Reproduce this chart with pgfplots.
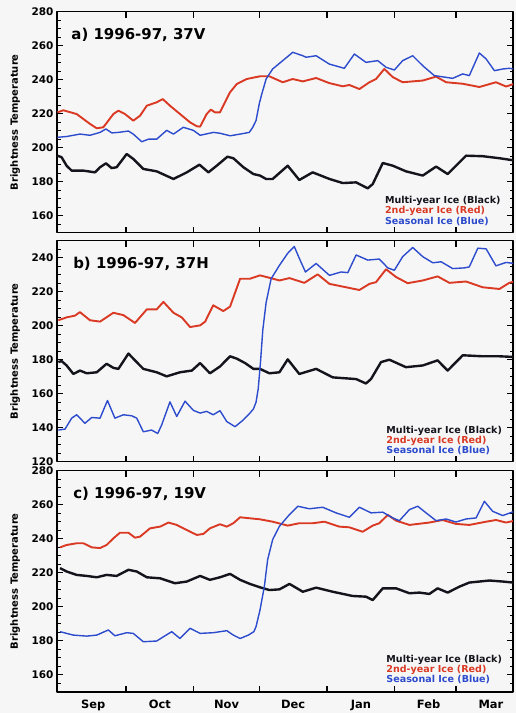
\documentclass[border=0pt]{standalone}
\usepackage{pgfplots}
\pgfplotsset{compat=1.18}
\usepackage{fontspec}
\setmainfont{DejaVu Sans}
\definecolor{myred}{RGB}{218,58,36}
\definecolor{myblue}{RGB}{45,75,205}
\definecolor{myblack}{RGB}{20,20,28}
\definecolor{bg}{RGB}{246,246,246}
\pgfplotsset{
 panel/.style={
  width=456bp, height=221bp, scale only axis,
  xmin=-1.6, xmax=207.1,
  xtick={30,61,91,122,153,181}, xticklabels={},
  axis line style={line width=1.6bp},
  major tick length=6bp, minor tick length=3.5bp,
  every tick/.style={line width=1.2bp, black},
  ytick distance=20,
  /pgf/number format/assume math mode=true,
  yticklabel style={font=\bfseries\fontsize{10.5}{12}\selectfont},
  ylabel={Brightness Temperature},
  ylabel style={font=\bfseries\fontsize{10}{12}\selectfont, at={(axis description cs:-0.092,0.5)}, anchor=center},
  line join=round,
 },
}
\tikzset{
 blk/.style={myblack, line width=2.4bp},
 rd/.style={myred, line width=1.9bp},
 bl/.style={myblue, line width=1.4bp},
 ttl/.style={anchor=west, font=\bfseries\fontsize{15}{18}\selectfont},
 lg/.style={anchor=west, font=\bfseries\fontsize{9.6}{11}\selectfont, inner sep=0pt},
}
\begin{document}
\begin{tikzpicture}
\path[use as bounding box, fill=bg] (0,0) rectangle (516bp,713bp);
% ---------------- panel a
\begin{axis}[panel, at={(57bp,480.3bp)}, anchor=south west, ymin=150, ymax=280, minor ytick={150,155,...,280}]
\addplot[blk] coordinates {(-1.4,195.3) (0.5,194.4) (2.8,189.4) (5.1,186.5) (10.5,186.5) (15.8,185.5) (18.1,188.5) (20.8,190.8) (23.4,188) (25.7,188.5) (30.3,196.3) (33.3,193.4) (37.9,187.5) (44,186.1) (51.7,181.6) (57.8,185.5) (63.6,190) (67.7,185.5) (71.5,189.4) (76.4,194.7) (79.1,193.8) (83.7,188.5) (88.3,184.5) (91.3,183.6) (94.1,181.6) (97.1,181.6) (104,189.4) (109.3,181) (115.4,185.5) (123.1,181.6) (129.2,179.2) (135.3,179.6) (140.6,176.1) (142.9,178.6) (147.5,191) (152.1,189.4) (158.1,186.1) (165.8,183.6) (171.9,188.9) (177.2,184.5) (185.6,195.3) (193.2,195) (200.9,193.8) (207.7,192.5)};
\addplot[rd] coordinates {(-1.4,220.8) (1.3,222) (7.4,219.8) (13.5,214) (16.6,211.4) (19.6,212) (24.2,219.8) (26.5,221.8) (29.5,219.8) (33.3,215.9) (36.4,218.8) (39.5,224.7) (44,226.7) (46.8,228.6) (50.1,224.7) (54.7,219.8) (59.3,214.9) (62.4,212.6) (63.9,212.4) (66.9,219.8) (68.8,222.4) (70.7,220.8) (73,220.8) (77.6,232.6) (80.7,237.5) (85.2,240.4) (91.3,242) (95.6,242) (101.7,238.5) (106.3,240.4) (110.9,239) (117,241) (123,238) (129.2,236.1) (132.2,236.9) (136.8,234.5) (141.4,238.5) (144.4,240.4) (148.2,246.3) (152.1,241.5) (156.6,238.5) (165.8,239.5) (171.9,241.8) (176.5,238.5) (184.1,237.6) (191.7,235.7) (199.3,238.5) (203.9,236) (207.7,237.6)};
\addplot[bl] coordinates {(-1.4,206.1) (2.9,206.6) (8.9,208) (13.5,207.3) (18.1,209) (20.8,211) (23.5,208.7) (26.5,209) (31.1,209.8) (33.3,208) (37.2,203.5) (40.2,205) (44,205) (48.6,210.2) (51.7,208) (56.2,212) (60.8,210.2) (63.9,207.3) (70,209) (73,208.5) (77.6,207) (82.2,208) (86.4,209) (88,212) (89.5,216) (91,226) (92,231) (94.1,240.4) (97.1,246.3) (101.7,251.2) (106.3,256.1) (110.9,254.1) (112.4,253.2) (117,254.1) (123,249.2) (129.9,246.7) (134.5,255.1) (139.8,250.2) (145.2,251.2) (149,247.3) (152.8,245.7) (156.6,251.2) (161.2,254.1) (165.8,248.2) (171.1,242.4) (179.5,240.8) (184.1,243.4) (187.1,242.4) (191.7,255.7) (194.8,252.2) (198.6,245.3) (202.4,246.3) (205.4,246.7) (207.7,246.3)};
\node[ttl] at (axis description cs:0.024,0.895) {a) 1996-97, 37V};
\node[lg, text=myblack] at (axis description cs:0.719,0.145) {Multi-year Ice (Black)};
\node[lg, text=myred] at (axis description cs:0.719,0.098) {2nd-year Ice (Red)};
\node[lg, text=myblue] at (axis description cs:0.719,0.051) {Seasonal Ice (Blue)};
\end{axis}
% ---------------- panel b
\begin{axis}[panel, at={(57bp,251.3bp)}, anchor=south west, ymin=120, ymax=250, minor ytick={120,125,...,250}]
\addplot[blk] coordinates {(-1.0,178.6) (0.5,179.2) (2.8,176.6) (5.9,171.6) (8.9,173.6) (12.0,172) (16.6,172.6) (21.1,177.6) (24.2,175.2) (26.5,174.6) (31.1,183.6) (34.1,179.6) (37.9,174.6) (44.0,172.6) (48.6,170.2) (54.7,172.6) (60.1,173.6) (63.9,178) (68.4,172) (73.0,176) (77.6,182) (80.7,180.6) (84.5,178) (88.3,174.6) (91.3,174.6) (95.6,172) (100.2,172.6) (104.0,180.2) (109.3,171.6) (117.0,174.6) (124.6,169.6) (135.3,168.6) (139.8,166) (142.1,168.6) (146.7,178.6) (150.5,180) (158.1,175.6) (165.8,176.6) (172.6,179.6) (177.2,173.6) (184.1,182.6) (193.2,182) (200.9,182) (207.7,181.6)};
\addplot[rd] coordinates {(-1.0,203.2) (2.8,204.9) (6.6,205.9) (8.9,208) (13.5,203.2) (18.1,202.4) (24.2,207.6) (28.8,206.2) (34.1,201.6) (39.5,209.6) (44.0,209.6) (47.1,214) (51.7,207.6) (55.5,204.9) (59.3,199.2) (63.9,200.2) (66.2,202.4) (69.9,212) (74.5,208.6) (77.6,211.2) (82.2,227.6) (86.7,227.6) (91.3,229.6) (95.6,228.2) (100.2,226.6) (104.8,228) (111.6,225.2) (117.7,230.2) (123.1,224.6) (130.7,222.6) (136.8,221) (141.4,224.6) (144.4,225.6) (149.0,233.2) (153.6,228.6) (158.9,225) (165.8,226.6) (172.6,229) (178.0,225.2) (185.6,226) (193.2,222.6) (200.9,221.6) (205.4,225.2) (207.7,226)};
\addplot[bl] coordinates {(-1.0,138.6) (2.1,139.2) (5.1,145.6) (7.4,147.6) (11.2,142.6) (14.3,146) (18.1,145.6) (21.5,156) (24.9,145.6) (28.8,147.6) (32.6,147) (34.9,145.6) (37.9,137.6) (41.7,138.6) (44.5,136.6) (46.3,141.6) (50.1,155.2) (53.2,146.6) (57.0,155.6) (60.8,150.2) (63.9,148.6) (66.9,149.6) (69.9,147.6) (73.0,150) (76.1,143.6) (79.9,140.6) (83.7,144.6) (86.7,148.6) (88.3,151) (89.5,155) (90.5,163) (91.5,178) (92.6,197.6) (94.1,213.6) (96.4,227.6) (100.2,235.5) (104.0,242.6) (107.0,246.6) (109.3,239.6) (112.1,231.6) (117.0,236.6) (123.1,229.6) (128.4,231.6) (131.5,231.2) (135.3,241.6) (140.6,238.6) (145.9,239.2) (149.8,234) (152.8,232.6) (156.6,240.6) (161.2,246) (165.8,240.6) (170.4,237) (174.2,237.6) (179.5,233.6) (184.8,234) (187.1,234.6) (191.0,245.6) (194.8,245.2) (199.3,235.2) (203.9,237.2) (207.7,236.6)};
\node[ttl] at (axis description cs:0.028,0.895) {b) 1996-97, 37H};
\node[lg, text=myblack] at (axis description cs:0.722,0.140) {Multi-year Ice (Black)};
\node[lg, text=myred] at (axis description cs:0.722,0.095) {2nd-year Ice (Red)};
\node[lg, text=myblue] at (axis description cs:0.722,0.050) {Seasonal Ice (Blue)};
\end{axis}
% ---------------- panel c
\begin{axis}[panel, at={(57bp,21.3bp)}, anchor=south west, ymin=150, ymax=280, minor ytick={150,155,...,280},
  extra x ticks={15,45.5,76,106.5,137.5,168.5,197},
  extra x tick labels={Sep,Oct,Nov,Dec,Jan,Feb,Mar},
  extra x tick style={major tick length=0pt, tick label style={font=\bfseries\fontsize{11.5}{13}\selectfont, yshift=-4.5bp}}]
\addplot[blk] coordinates {(-0.2,222.7) (2.8,220.7) (7.4,218.7) (12.0,218.1) (16.6,217.3) (21.1,218.7) (25.7,218.1) (31.1,221.7) (34.9,220.7) (39.5,217.3) (45.6,216.7) (52.4,213.8) (57.8,214.8) (63.9,218.1) (68.4,215.8) (73.0,217.3) (77.6,219.3) (82.2,215.8) (86.7,213.4) (91.3,211.4) (95.6,209.8) (100.2,210.2) (104.8,213.4) (110.9,208.8) (117.0,211.2) (124.6,208.8) (133.7,206.3) (139.8,205.9) (142.9,203.9) (147.5,210.8) (153.6,210.8) (159.7,207.9) (164.3,208.3) (168.8,207.5) (172.6,210.8) (177.2,208.3) (182.6,211.8) (187.1,214.2) (196.3,215.4) (202.4,214.8) (207.1,214.2)};
\addplot[rd] coordinates {(-0.2,234.9) (2.8,236.3) (7.4,237.3) (10.5,237.3) (14.3,234.9) (18.1,234.5) (21.1,236.3) (24.2,240.2) (27.2,243.5) (31.1,243.5) (34.1,240.6) (36.4,241.2) (41.0,246.1) (45.6,247.1) (49.4,249.5) (53.2,248.1) (57.8,245.1) (62.4,242.2) (65.4,242.8) (68.4,246.1) (73.0,248.5) (76.1,247.1) (79.1,249.1) (82.2,252.6) (86.7,252) (91.3,251.4) (97.1,250) (104.0,247.7) (109.3,249.1) (115.4,249.1) (120.8,250) (127.6,247.1) (132.2,246.7) (138.3,244.1) (142.9,247.7) (145.9,249.1) (149.8,254) (153.6,250.6) (159.7,248.1) (168.8,249.5) (174.9,251) (181.0,248.7) (187.1,248.1) (194.8,250) (199.3,251) (203.9,249.5) (207.1,250.4)};
\addplot[bl] coordinates {(-0.2,185.3) (2.8,184.3) (5.9,183.3) (12.0,182.7) (16.6,183.3) (21.9,186.3) (24.9,182.9) (30.3,184.7) (33.3,184.3) (37.9,179.4) (44.0,179.8) (47.1,182.3) (50.9,185.3) (54.7,181.3) (59.3,187.3) (63.9,184.3) (69.9,184.7) (76.1,185.9) (79.1,183.3) (82.2,181.3) (86.0,183.3) (88.5,185.3) (89.5,188.3) (91.3,198) (93.3,211.9) (94.8,227.6) (97.1,239.5) (100.2,247.3) (104.8,254.2) (108.6,259.1) (113.9,257.6) (120.0,258.5) (126.1,255.2) (132.2,252.6) (136.8,258.5) (142.1,255.2) (147.5,255.6) (152.1,252.2) (155.1,250.6) (159.7,257.1) (163.5,259.1) (167.3,255.2) (171.9,250.6) (176.5,251.6) (181.0,249.8) (185.6,251.6) (190.2,252.2) (194.0,262) (197.8,256.1) (202.4,253.6) (207.1,255.8)};
\node[ttl] at (axis description cs:0.028,0.895) {c) 1996-97, 19V};
\node[lg, text=myblack] at (axis description cs:0.722,0.143) {Multi-year Ice (Black)};
\node[lg, text=myred] at (axis description cs:0.722,0.098) {2nd-year Ice (Red)};
\node[lg, text=myblue] at (axis description cs:0.722,0.053) {Seasonal Ice (Blue)};
\end{axis}
\end{tikzpicture}
\end{document}
